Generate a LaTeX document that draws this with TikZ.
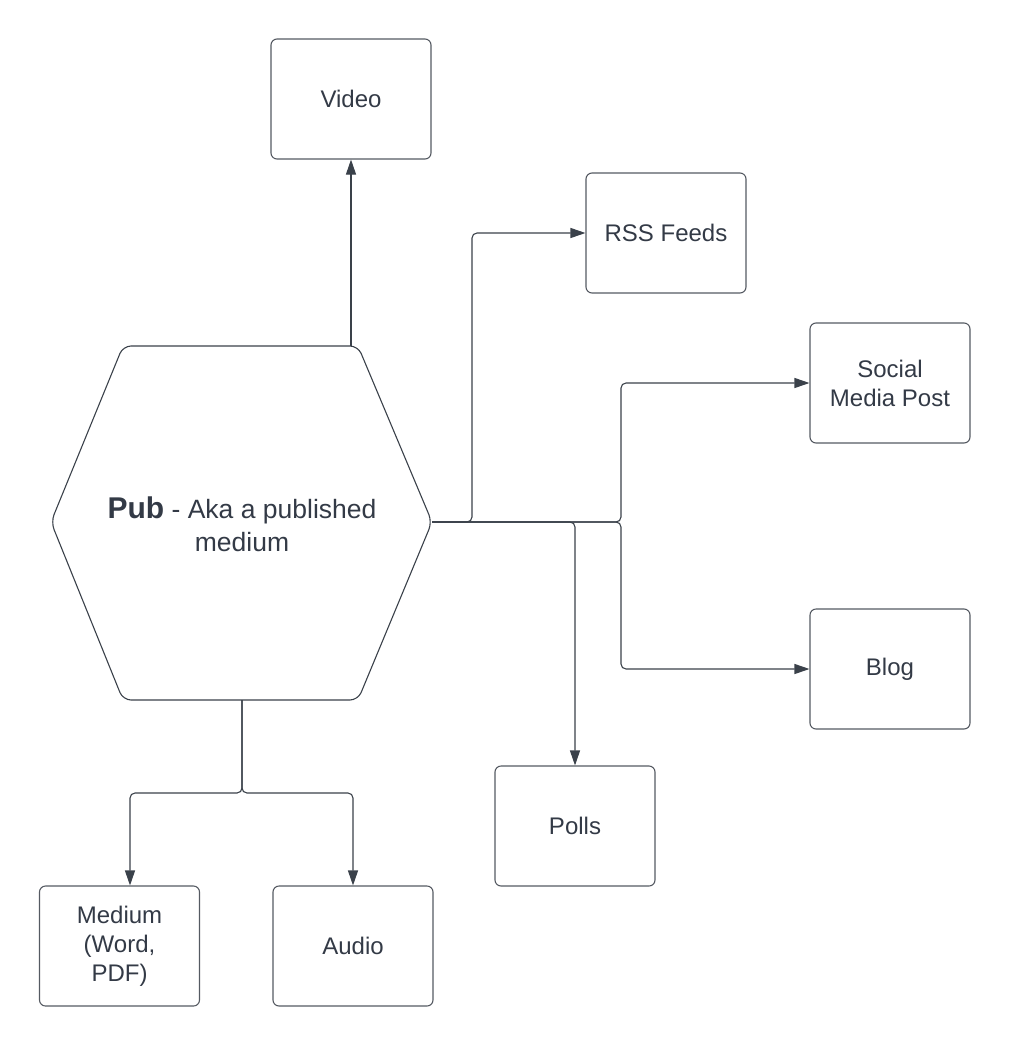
\documentclass[tikz,border=0pt]{standalone}
\usepackage{fontspec}
\setmainfont{Liberation Sans}
\usetikzlibrary{arrows.meta,calc}
\definecolor{linec}{RGB}{58,65,74}
\definecolor{boxc}{RGB}{85,90,98}
\definecolor{textc}{RGB}{51,58,70}
\begin{document}
\begin{tikzpicture}[x=1pt,y=-1pt,
  box/.style={draw=boxc,line width=1.1pt,rounded corners=6pt,minimum width=160pt,minimum height=120pt,
    align=center,text=textc,font=\fontsize{24}{29}\selectfont,inner sep=0pt},
  conn/.style={draw=linec,line width=1.1pt,rounded corners=5pt,-{Triangle[length=15pt,width=10pt]}},
  plain/.style={draw=linec,line width=1.1pt,rounded corners=5pt}]
\useasboundingbox (0,0) rectangle (1011,1047);
% hexagon
\draw[draw=linec,line width=1.1pt,rounded corners=8pt] (51,522) -- (123,346) -- (358,346) -- (432,522) -- (358,700) -- (123,700) -- cycle;
\node[text=textc,align=center,font=\fontsize{26.5}{33}\selectfont,inner sep=0pt] (pub) at (242,524)
  {{\fontsize{30}{33}\selectfont\textbf{Pub}} - Aka a published\\medium};
\coordinate (hexR) at (432,522);
\coordinate (hexT) at (351,346);
\coordinate (hexB) at (242,700);
% boxes
\node[box] (video) at (351,99) {Video};
\node[box] (rss) at (666,233) {RSS Feeds};
\node[box] (social) at (890,383) {Social\\Media Post};
\node[box] (blog) at (890,669) {Blog};
\node[box] (polls) at (575,826) {Polls};
\node[box] (medium) at (119.5,946) {Medium\\(Word,\\PDF)};
\node[box] (audio) at (353,946) {Audio};
% connectors
\draw[conn] (hexT) -- (video.south);
\draw[conn] (hexR) -- ++(40,0) |- (rss.west);
\draw[conn] (hexR) -| (polls.north);
\draw[conn] (hexR) -- ++(189,0) |- (social.west);
\draw[conn] (hexR) -- ++(189,0) |- (blog.west);
\draw[conn] (hexB) -- ++(0,93) -| ([xshift=10.5pt]medium.north);
\draw[conn] (hexB) -- ++(0,93) -| (audio.north);
\end{tikzpicture}
\end{document}
